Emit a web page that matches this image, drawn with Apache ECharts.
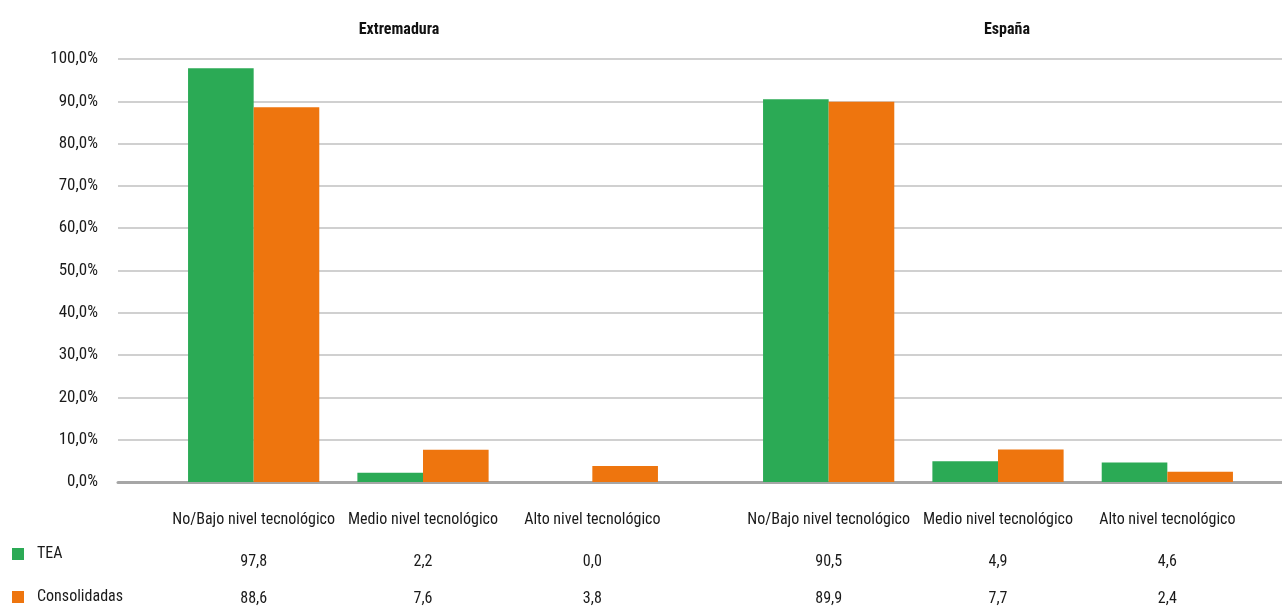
<!DOCTYPE html>
<html>
<head>
<meta charset="utf-8">
<script src="https://cdn.jsdelivr.net/npm/echarts@6/dist/echarts.min.js"></script>
<style>
  html, body { margin: 0; padding: 0; background: #fff; }
  #chart { width: 1282px; height: 610px; }
</style>
</head>
<body>
<div id="chart"></div>
<script>
// datos
var categorias = ["No/Bajo nivel tecnológico", "Medio nivel tecnológico", "Alto nivel tecnológico"];
var regiones = ["Extremadura", "España"];
var tea_ext = [97.8, 2.2, 0.0];
var cons_ext = [88.6, 7.6, 3.8];
var tea_esp = [90.5, 4.9, 4.6];
var cons_esp = [89.9, 7.7, 2.4];

var FONT = "'Roboto Condensed', sans-serif";
var VERDE = "#2baa55";
var NARANJA = "#ee750e";

function fmt(v) {
  return v.toFixed(1).replace(".", ",");
}

function ejeCat(grid, data, margin) {
  return {
    type: "category",
    gridIndex: grid,
    position: "bottom",
    data: data,
    axisLine: { show: false },
    axisTick: { show: false },
    splitLine: { show: false },
    axisLabel: {
      interval: 0,
      margin: margin,
      color: "#1a1a1a",
      fontSize: 16,
      fontFamily: FONT
    }
  };
}

function ejeYOculto(grid) {
  return { type: "value", gridIndex: grid, min: 0, max: 100, show: false };
}

var myChart = echarts.init(document.getElementById("chart"));
var option = {
  animation: false,
  color: [VERDE, NARANJA],
  title: [
    { text: regiones[0], left: 394, top: 17, textAlign: "center",
      textStyle: { fontSize: 16, fontWeight: "bold", color: "#111", fontFamily: FONT } },
    { text: regiones[1], left: 1002, top: 17, textAlign: "center",
      textStyle: { fontSize: 16, fontWeight: "bold", color: "#111", fontFamily: FONT } }
  ],
  legend: {
    orient: "vertical",
    left: 12,
    top: 546,
    padding: 0,
    itemWidth: 12,
    itemHeight: 12,
    itemGap: 27,
    icon: "rect",
    selectedMode: false,
    textStyle: { fontSize: 16, color: "#1a1a1a", fontFamily: FONT, padding: [0, 0, 0, 8] },
    data: ["TEA", "Consolidadas"]
  },
  grid: [
    { left: 118, right: 0, top: 59, bottom: 128, outerBoundsMode: "none" },
    { left: 169, right: 605, top: 59, bottom: 128, outerBoundsMode: "none" },
    { left: 744, right: 30, top: 59, bottom: 128, outerBoundsMode: "none" }
  ],
  xAxis: [
    {
      type: "value", gridIndex: 0, min: 0, max: 1,
      axisLine: { show: true, lineStyle: { color: "#a6a6a6", width: 3 } },
      axisTick: { show: false }, axisLabel: { show: false }, splitLine: { show: false }
    },
    ejeCat(1, categorias, 30),
    ejeCat(1, tea_ext.map(fmt), 72),
    ejeCat(1, cons_ext.map(fmt), 109),
    ejeCat(2, categorias, 30),
    ejeCat(2, tea_esp.map(fmt), 72),
    ejeCat(2, cons_esp.map(fmt), 109)
  ],
  yAxis: [
    {
      type: "value", gridIndex: 0, min: 0, max: 100, interval: 10,
      axisLine: { show: false }, axisTick: { show: false },
      axisLabel: {
        margin: 20, color: "#1a1a1a", fontSize: 17, fontFamily: FONT,
        formatter: function (v) { return fmt(v) + "%"; }
      },
      splitLine: { lineStyle: { color: "#c0c0c0", width: 1.5 } }
    },
    ejeYOculto(1),
    ejeYOculto(2)
  ],
  series: [
    { name: "TEA", type: "bar", xAxisIndex: 1, yAxisIndex: 1, data: tea_ext,
      barGap: "0%", barCategoryGap: "22.5%", itemStyle: { color: VERDE } },
    { name: "Consolidadas", type: "bar", xAxisIndex: 1, yAxisIndex: 1, data: cons_ext,
      barGap: "0%", barCategoryGap: "22.5%", itemStyle: { color: NARANJA } },
    { name: "TEA", type: "bar", xAxisIndex: 4, yAxisIndex: 2, data: tea_esp,
      barGap: "0%", barCategoryGap: "22.5%", itemStyle: { color: VERDE } },
    { name: "Consolidadas", type: "bar", xAxisIndex: 4, yAxisIndex: 2, data: cons_esp,
      barGap: "0%", barCategoryGap: "22.5%", itemStyle: { color: NARANJA } }
  ]
};
myChart.setOption(option);
</script>
</body>
</html>
